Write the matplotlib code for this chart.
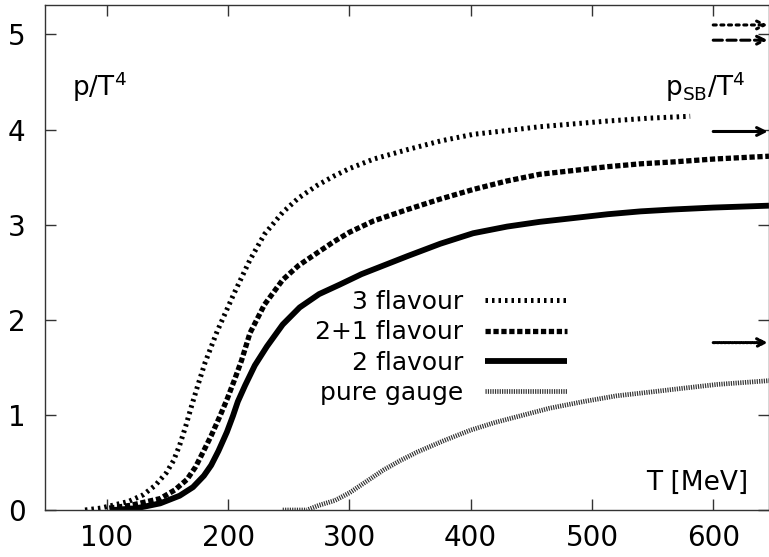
import numpy as np
import matplotlib
matplotlib.use("Agg")
import matplotlib.pyplot as plt

# pressure p/T^4 vs T [MeV]
T_3f = [82, 95, 105, 118, 130, 140, 149, 155, 160, 165, 170, 175, 181, 191, 205, 218, 230, 245,
        258, 273, 287, 300, 320, 348, 375, 402, 430, 457, 485, 513, 547, 581]
p_3f = [0.0, 0.02, 0.05, 0.09, 0.16, 0.26, 0.39, 0.52, 0.68, 0.88, 1.10, 1.31, 1.55, 1.88, 2.28,
        2.63, 2.90, 3.13, 3.28, 3.41, 3.51, 3.59, 3.69, 3.79, 3.88, 3.95, 3.99, 4.03, 4.06, 4.09,
        4.12, 4.14]

T_21f = [102, 120, 144, 156, 166, 173, 179, 186, 193, 199, 205, 211, 218, 230, 245, 258, 273,
         287, 300, 320, 348, 375, 402, 430, 457, 485, 513, 540, 567, 600, 646]
p_21f = [0.02, 0.05, 0.12, 0.21, 0.32, 0.45, 0.60, 0.78, 0.98, 1.16, 1.36, 1.57, 1.86, 2.16,
         2.42, 2.57, 2.70, 2.82, 2.92, 3.04, 3.16, 3.27, 3.37, 3.46, 3.53, 3.57, 3.61, 3.64,
         3.66, 3.69, 3.72]

T_2f = [105, 125, 144, 160, 171, 180, 186, 192, 199, 204, 208, 214, 222, 232, 245, 259, 275,
        292, 310, 330, 348, 375, 402, 430, 457, 485, 513, 540, 567, 600, 646]
p_2f = [0.0, 0.02, 0.07, 0.15, 0.24, 0.36, 0.47, 0.62, 0.82, 0.99, 1.14, 1.31, 1.52, 1.72,
        1.95, 2.13, 2.27, 2.37, 2.48, 2.58, 2.67, 2.80, 2.91, 2.98, 3.03, 3.07, 3.11, 3.14,
        3.16, 3.18, 3.20]

T_pg = [245, 265, 275, 288, 300, 314, 328, 342, 356, 378, 400, 420, 438, 465, 493, 520, 548,
        575, 603, 646]
p_pg = [0.0, 0.0, 0.05, 0.10, 0.18, 0.30, 0.42, 0.52, 0.61, 0.73, 0.84, 0.92, 0.98, 1.07,
        1.14, 1.20, 1.24, 1.28, 1.32, 1.36]

labels = ["3 flavour", "2+1 flavour", "2 flavour", "pure gauge"]

# Stefan-Boltzmann limits (arrows at the right)
sb_values = [5.10, 4.94, 3.98, 1.76]
sb_start = 600
sb_end = 645

# line styles
styles = [
    dict(color="black", lw=3.6, linestyle=(0, (0.5, 0.8)), dash_capstyle="butt"),
    dict(color="black", lw=3.8, linestyle=(0, (1.0, 0.5)), dash_capstyle="butt"),
    dict(color="black", lw=4.2, linestyle="-"),
    dict(color="#333333", lw=3.4, linestyle=(0, (0.25, 0.25)), dash_capstyle="butt"),
]
arrow_ls = [(0, (1, 1.5)), (0, (3, 1.5)), "-", (0, (0.6, 0.6))]

fig = plt.figure(figsize=(7.69, 5.57), dpi=100)
ax = fig.add_axes([45 / 769, 47 / 557, 1 - 45 / 769, 505 / 557])

series = [(T_3f, p_3f), (T_21f, p_21f), (T_2f, p_2f), (T_pg, p_pg)]
for (t, p), lab, st in zip(series, labels, styles):
    ax.plot(t, p, label=lab, solid_capstyle="butt", solid_joinstyle="round", **st)

for y, ls in zip(sb_values, arrow_ls):
    ax.annotate("", xy=(sb_end, y), xytext=(sb_start, y), annotation_clip=False,
                arrowprops=dict(arrowstyle="->", lw=2.2, color="black",
                                linestyle=ls, shrinkA=0, shrinkB=0,
                                mutation_scale=14))

ax.set_xlim(49, 646)
ax.set_ylim(0, 5.31)
ax.set_xticks([100, 200, 300, 400, 500, 600])
ax.set_yticks([0, 1, 2, 3, 4, 5])

for s in ax.spines.values():
    s.set_color("#333333")
    s.set_linewidth(1.0)
ax.tick_params(direction="in", length=8, width=1, color="#333333",
               top=True, right=True, labelsize=20)
ax.tick_params(axis="x", pad=10)
ax.tick_params(axis="y", pad=14)

ax.text(71, 4.35, r"$\mathregular{p/T^4}$", fontsize=19, ha="left", va="baseline")
ax.text(560, 4.35, r"$\mathregular{p_{SB}/T^4}$", fontsize=19, ha="left", va="baseline")
ax.text(629, 0.21, "T [MeV]", fontsize=19, ha="right", va="baseline")

ax.legend(loc="center right", bbox_to_anchor=(0.721, 0.322), frameon=False,
          markerfirst=False, fontsize=18, handlelength=3.3, handletextpad=0.84,
          labelspacing=0.25, borderpad=0, borderaxespad=0)

fig.savefig("out.png", dpi=100)
